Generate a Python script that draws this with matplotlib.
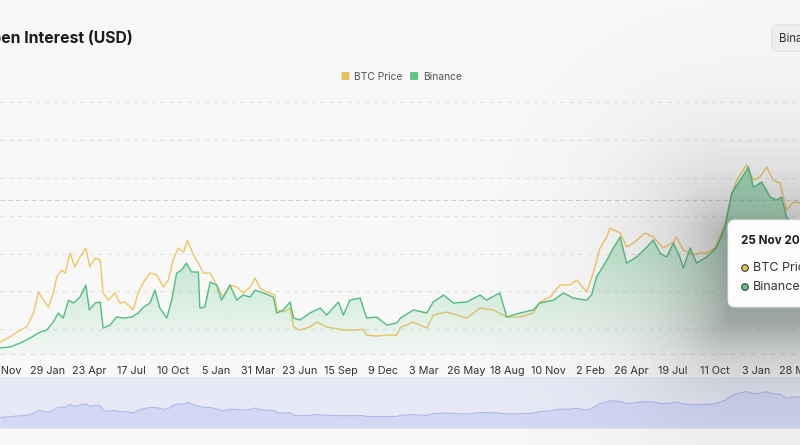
import numpy as np
import pandas as pd
import matplotlib
matplotlib.use("Agg")
import matplotlib.pyplot as plt
import matplotlib.dates as mdates
from matplotlib.patches import FancyBboxPatch, Circle

plt.rcParams['font.family'] = ['Inter', 'DejaVu Sans']

# ---------------- data ----------------
price_dates = [
    "2020-10-24", "2020-11-13", "2020-12-04", "2020-12-17", "2020-12-31", "2021-01-10",
    "2021-01-20", "2021-01-30", "2021-02-09", "2021-02-16", "2021-02-26", "2021-03-05",
    "2021-03-15", "2021-03-25", "2021-04-04", "2021-04-16", "2021-04-24", "2021-05-05",
    "2021-05-15", "2021-05-21", "2021-06-01", "2021-06-14", "2021-06-24", "2021-07-04",
    "2021-07-21", "2021-07-31", "2021-08-11", "2021-08-24", "2021-09-07", "2021-09-20",
    "2021-09-30", "2021-10-10", "2021-10-20", "2021-10-31", "2021-11-08", "2021-11-20",
    "2021-11-30", "2021-12-10", "2021-12-24", "2022-01-06", "2022-01-20", "2022-02-02",
    "2022-02-16", "2022-03-01", "2022-03-15", "2022-03-25", "2022-04-04", "2022-04-17",
    "2022-05-04", "2022-05-08", "2022-05-21", "2022-06-04", "2022-06-11", "2022-06-24",
    "2022-07-14", "2022-07-28", "2022-08-17", "2022-08-31", "2022-09-20", "2022-10-10",
    "2022-10-30", "2022-11-06", "2022-11-26", "2022-12-17", "2023-01-06", "2023-01-14",
    "2023-02-09", "2023-03-08", "2023-03-21", "2023-04-17", "2023-05-28", "2023-06-24",
    "2023-07-21", "2023-08-17", "2023-09-13", "2023-10-10", "2023-10-23", "2023-11-13",
    "2023-12-03", "2023-12-23", "2024-01-06", "2024-01-26", "2024-02-09", "2024-02-22",
    "2024-03-07", "2024-03-13", "2024-04-03", "2024-04-16", "2024-04-30", "2024-05-23",
    "2024-06-09", "2024-06-29", "2024-07-20", "2024-07-26", "2024-08-09", "2024-08-29",
    "2024-09-12", "2024-09-25", "2024-10-12", "2024-11-01", "2024-11-12", "2024-11-25",
    "2024-12-15", "2024-12-29", "2025-01-11", "2025-01-25", "2025-02-07", "2025-02-21",
    "2025-03-06", "2025-03-20", "2025-04-02",
]
price_values = [  # BTC price, thousand USD
    13.2, 15.9, 19.6, 21.2, 28.6, 39.7,
    35.4, 31.7, 39.2, 47.6, 51.3, 49.7,
    60.3, 52.9, 58.2, 63.0, 52.9, 57.7,
    56.6, 39.2, 35.4, 39.2, 33.9, 34.4,
    30.2, 39.2, 45.0, 49.7, 48.7, 42.3,
    46.0, 56.6, 63.0, 60.8, 67.2, 59.3,
    55.0, 49.7, 49.7, 43.4, 37.0, 43.4,
    42.3, 39.2, 42.3, 47.1, 41.8, 39.7,
    38.1, 30.2, 29.1, 31.2, 21.2, 19.6,
    21.2, 23.8, 21.2, 20.6, 19.6, 19.6,
    19.9, 16.9, 16.4, 16.9, 16.9, 21.0,
    23.8, 20.6, 27.5, 29.1, 25.9, 31.2,
    30.2, 26.5, 26.5, 28.6, 34.4, 37.0,
    43.4, 43.4, 46.0, 39.7, 50.3, 63.0,
    68.8, 73.5, 70.9, 63.5, 65.6, 70.9,
    68.8, 63.0, 66.1, 68.8, 61.9, 59.3,
    60.3, 60.3, 63.0, 75.1, 88.4, 98.9,
    106.9, 98.9, 100.5, 105.8, 98.9, 97.4,
    83.1, 87.3, 86.8,
]

oi_dates = [
    "2020-10-24", "2020-11-13", "2020-12-04", "2020-12-24", "2021-01-13", "2021-01-27",
    "2021-02-09", "2021-02-19", "2021-03-01", "2021-03-12", "2021-03-22", "2021-04-04",
    "2021-04-16", "2021-04-23", "2021-05-05", "2021-05-15", "2021-05-21", "2021-06-04",
    "2021-06-17", "2021-07-01", "2021-07-18", "2021-07-31", "2021-08-11", "2021-08-24",
    "2021-09-03", "2021-09-13", "2021-09-27", "2021-10-07", "2021-10-17", "2021-10-27",
    "2021-11-06", "2021-11-16", "2021-11-30", "2021-12-03", "2021-12-13", "2021-12-24",
    "2022-01-06", "2022-01-16", "2022-02-02", "2022-02-16", "2022-03-01", "2022-03-15",
    "2022-03-25", "2022-04-11", "2022-05-01", "2022-05-08", "2022-05-21", "2022-06-04",
    "2022-06-11", "2022-06-24", "2022-07-14", "2022-08-04", "2022-08-17", "2022-09-10",
    "2022-09-20", "2022-10-03", "2022-10-24", "2022-11-06", "2022-11-26", "2022-12-17",
    "2023-01-06", "2023-01-14", "2023-02-09", "2023-03-08", "2023-03-21", "2023-04-11",
    "2023-05-01", "2023-05-28", "2023-06-24", "2023-07-07", "2023-08-03", "2023-08-17",
    "2023-09-13", "2023-10-10", "2023-10-23", "2023-11-20", "2023-12-10", "2023-12-30",
    "2024-01-26", "2024-02-05", "2024-02-15", "2024-03-07", "2024-03-20", "2024-04-03",
    "2024-04-16", "2024-05-06", "2024-05-27", "2024-06-09", "2024-06-23", "2024-07-06",
    "2024-07-20", "2024-08-02", "2024-08-09", "2024-08-23", "2024-09-05", "2024-09-25",
    "2024-10-16", "2024-11-01", "2024-11-15", "2024-12-02", "2024-12-19", "2024-12-29",
    "2025-01-15", "2025-02-01", "2025-02-14", "2025-02-24", "2025-03-06", "2025-03-20",
    "2025-04-02",
]
oi_values = [  # Binance open interest, billion USD
    1.01, 1.06, 1.27, 1.53, 1.85, 1.96,
    2.38, 2.86, 2.59, 3.54, 3.39, 3.70,
    4.34, 3.02, 3.39, 3.44, 2.06, 2.22,
    2.65, 2.59, 2.65, 2.86, 3.17, 3.39,
    4.07, 3.12, 2.59, 3.54, 4.97, 5.13,
    5.50, 5.03, 5.03, 3.12, 3.17, 4.50,
    4.34, 3.54, 4.34, 3.54, 3.81, 3.70,
    4.07, 3.92, 3.70, 2.86, 3.02, 3.44,
    2.59, 2.49, 2.86, 3.12, 2.75, 3.44,
    2.75, 3.54, 3.65, 2.59, 2.65, 2.22,
    2.33, 2.60, 3.02, 2.86, 3.44, 3.81,
    3.39, 3.44, 3.81, 3.54, 3.92, 2.65,
    2.86, 3.02, 3.39, 3.54, 3.92, 3.65,
    3.54, 3.81, 4.76, 5.66, 6.30, 6.88,
    5.50, 5.82, 6.35, 6.72, 6.03, 5.82,
    6.56, 5.82, 5.24, 6.30, 5.50, 5.82,
    6.35, 7.35, 9.21, 9.89, 10.58, 9.52,
    9.79, 8.99, 8.84, 8.99, 7.94, 7.50,
    7.40,
]

tick_dates = [
    "2020-11-06", "2021-01-29", "2021-04-23", "2021-07-17", "2021-10-10", "2022-01-05",
    "2022-03-31", "2022-06-23", "2022-09-15", "2022-12-09", "2023-03-03", "2023-05-26",
    "2023-08-18", "2023-11-10", "2024-02-02", "2024-04-26", "2024-07-19", "2024-10-11",
    "2025-01-03", "2025-03-28",
]
tick_labels = [
    "6 Nov", "29 Jan", "23 Apr", "17 Jul", "10 Oct", "5 Jan", "31 Mar", "23 Jun",
    "15 Sep", "9 Dec", "3 Mar", "26 May", "18 Aug", "10 Nov", "2 Feb", "26 Apr",
    "19 Jul", "11 Oct", "3 Jan", "28 Mar",
]
grid_prices = [20, 40, 60, 80, 100, 120, 140]
crosshair_price = 88.4
tooltip_date = "25 Nov 2024"
series_names = ["BTC Price", "Binance"]

# ---------------- styling ----------------
W, H = 800, 445
BG = '#f8f8f8'
YEL = '#f2c462'
GRN = '#4fbf7d'
YEL_LEG = '#e8c060'
GRN_LEG = '#5ac787'

fig = plt.figure(figsize=(W / 100, H / 100), dpi=100)
fig.patch.set_facecolor(BG)

x_start = mdates.date2num(pd.Timestamp("2020-10-24"))
x_end = x_start + 1621.4
p_lo, p_hi = 6.9, 146.6
oi_lo, oi_hi = p_lo / 10, p_hi / 10

px_d = mdates.date2num(pd.to_datetime(price_dates))
oi_d = mdates.date2num(pd.to_datetime(oi_dates))
tk_d = mdates.date2num(pd.to_datetime(tick_dates))

# main axes (pixels 90..354 vertically)
ax = fig.add_axes([0, 1 - 354 / H, 1, (354 - 90) / H])
ax.set_facecolor(BG)
for s in ax.spines.values():
    s.set_visible(False)
for g in grid_prices:
    ax.axhline(g, color='#e3e3e3', lw=0.8, ls=(0, (4, 4)), zorder=0)
ax.axhline(p_lo, color='#e0e0e0', lw=0.9, ls=(0, (4, 4)), zorder=0, clip_on=False)
ax.axhline(crosshair_price, color='#cdcdcd', lw=0.8, ls=(0, (4, 3)), zorder=1)
ax.plot(px_d, price_values, color=YEL, lw=1.0, zorder=3)
ax.set_xlim(x_start, x_end)
ax.set_ylim(p_lo, p_hi)
ax.set_yticks([])
ax.set_xticks(tk_d)
ax.set_xticklabels(tick_labels, fontsize=7.8, color='#333333')
ax.tick_params(axis='x', length=0, pad=9)

ax2 = ax.twinx()
for s in ax2.spines.values():
    s.set_visible(False)
ax2.set_yticks([])
fill = ax2.fill_between(oi_d, oi_values, oi_lo, facecolor='none', edgecolor='none')
clip_path = fill.get_paths()[0]
n = 256
grad = np.zeros((n, 1, 4))
grad[..., 0] = 0x4f / 255
grad[..., 1] = 0xbf / 255
grad[..., 2] = 0x7d / 255
grad[:, 0, 3] = np.linspace(0.03, 0.55, n)
im = ax2.imshow(grad, extent=[x_start, x_end, oi_lo, max(oi_values)], origin='lower',
                aspect='auto', zorder=2, interpolation='bilinear')
im.set_clip_path(clip_path, transform=ax2.transData)
ax2.plot(oi_d, oi_values, color=GRN, lw=1.0, zorder=4)
ax2.set_xlim(x_start, x_end)
ax2.set_ylim(oi_lo, oi_hi)

# navigator (pixels 377..428)
axn = fig.add_axes([0, 1 - 428 / H, 1, (428 - 377) / H])
axn.set_facecolor('#e7e9f6')
for s in axn.spines.values():
    s.set_visible(False)
axn.set_xticks([])
axn.set_yticks([])
nav_lo, nav_hi = -24.5, 159
axn.fill_between(px_d, price_values, nav_lo, color='#d3d9f5', lw=0)
axn.plot(px_d, price_values, color='#adb9ee', lw=0.8)
axn.set_xlim(x_start, x_end)
axn.set_ylim(nav_lo, nav_hi)

# overlay in pixel coordinates for page decorations
ov = fig.add_axes([0, 0, 1, 1], zorder=10)
ov.set_axis_off()
ov.patch.set_alpha(0)

# title
ov.text(133, 38, "Open Interest (USD)", ha='right', va='center', fontsize=11.4,
        fontweight='bold', color='#1c1c1c')

# button
ov.add_patch(FancyBboxPatch((772, 25), 60, 26, boxstyle="round,pad=0,rounding_size=5",
                            fc='#f1f1f1', ec='#e2e2e2', lw=0.8))
ov.text(779, 38.5, "Binance", ha='left', va='center', fontsize=8.3, color='#333333')

# legend
ov.add_patch(FancyBboxPatch((341.5, 72), 8, 8, boxstyle="round,pad=0,rounding_size=1.2",
                            fc=YEL_LEG, ec='none'))
ov.text(354, 76.5, series_names[0], ha='left', va='center', fontsize=7.4, color='#555555')
ov.add_patch(FancyBboxPatch((410, 72), 8, 8, boxstyle="round,pad=0,rounding_size=1.2",
                            fc=GRN_LEG, ec='none'))
ov.text(423, 76.5, series_names[1], ha='left', va='center', fontsize=7.4, color='#555555')

# tooltip shadow
bx0, bx1, by0, by1 = 728, 880, 220, 307
yy, xx = np.mgrid[0:H, 0:W] + 0.5
dx = np.maximum(np.maximum(bx0 - xx, 0), xx - bx1)
dy = np.maximum(np.maximum(by0 + 15 - yy, 0), yy - (by1 + 15))
d = np.hypot(dx, dy)
sh = np.zeros((H, W, 4))
sh[..., :3] = 0.25
sh[..., 3] = 0.42 * np.exp(-d / 58.0)
ov.imshow(sh, extent=[0, W, H, 0], origin='upper', zorder=1, interpolation='bilinear')
ov.set_xlim(0, W)
ov.set_ylim(H, 0)

# tooltip box
ov.add_patch(FancyBboxPatch((bx0, by0), bx1 - bx0, by1 - by0,
                            boxstyle="round,pad=0,rounding_size=7",
                            fc='#fdfdfd', ec='#f0f0f0', lw=0.6, zorder=2))
ov.text(741, 241, tooltip_date, ha='left', va='center', fontsize=8.4,
        fontweight='bold', color='#1c1c1c', zorder=3)
ov.add_patch(Circle((745, 268), 3.3, fc=YEL_LEG, ec='#4a4a4a', lw=0.9, zorder=3))
ov.text(753, 268, series_names[0], ha='left', va='center', fontsize=9,
        color='#333333', zorder=3)
ov.add_patch(Circle((745, 287), 3.3, fc=GRN_LEG, ec='#4a4a4a', lw=0.9, zorder=3))
ov.text(753, 287, series_names[1], ha='left', va='center', fontsize=9,
        color='#333333', zorder=3)

fig.savefig("out.png", dpi=100, facecolor=BG)
